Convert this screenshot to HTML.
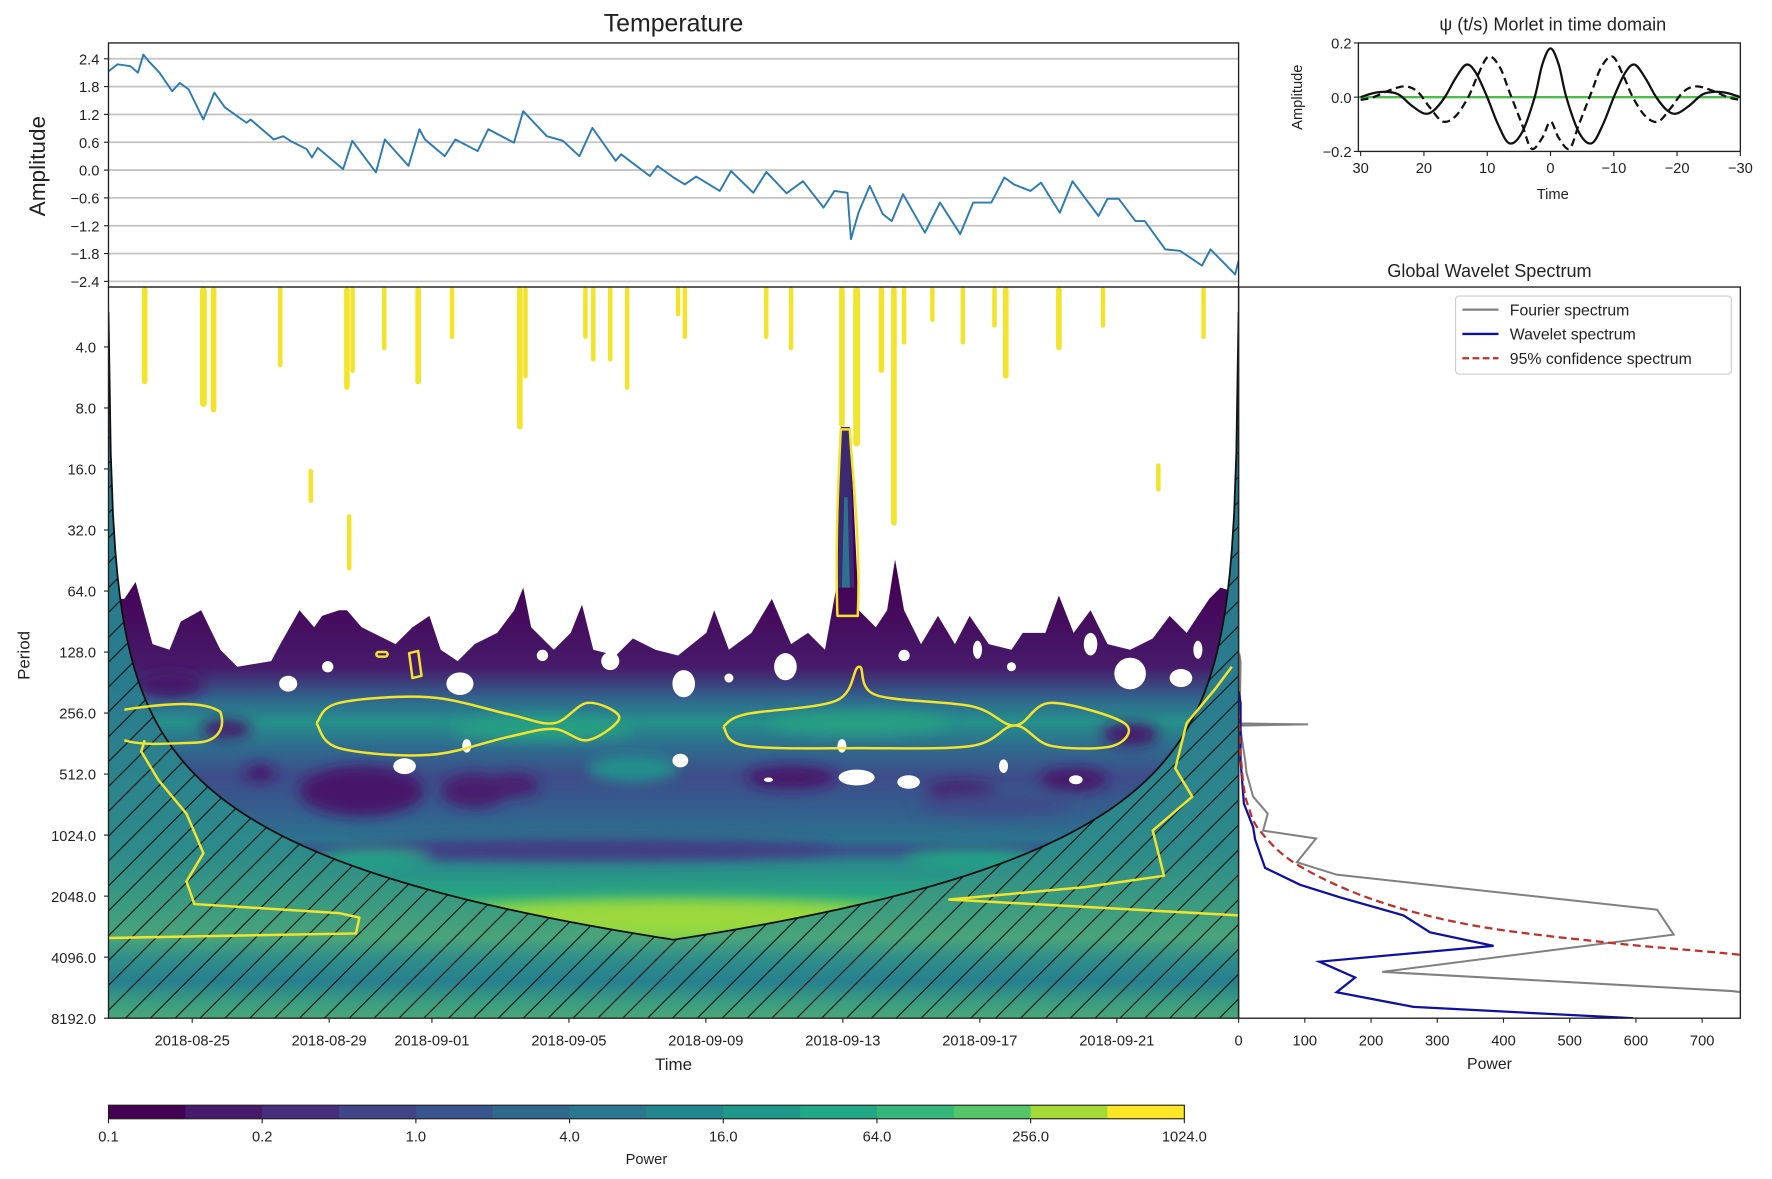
<!DOCTYPE html>
<html><head><meta charset="utf-8"><style>
html,body{margin:0;padding:0;background:#fff;}
svg{display:block;font-family:"Liberation Sans","DejaVu Sans",sans-serif;}
</style></head><body>
<svg id="fig" width="1772" height="1179" viewBox="0 0 1568 1043.3" preserveAspectRatio="none" xmlns="http://www.w3.org/2000/svg">
<defs>
<linearGradient id="gIn" x1="0" y1="254" x2="0" y2="901" gradientUnits="userSpaceOnUse">
<stop offset="0.40" stop-color="#440154"/><stop offset="0.52" stop-color="#471b6a"/><stop offset="0.565" stop-color="#30688e"/>
<stop offset="0.595" stop-color="#25908b"/><stop offset="0.63" stop-color="#2f6b8e"/><stop offset="0.67" stop-color="#3e4c8a"/>
<stop offset="0.72" stop-color="#33608d"/><stop offset="0.755" stop-color="#2c728e"/><stop offset="0.77" stop-color="#3b528b"/>
<stop offset="0.79" stop-color="#2a8a8b"/><stop offset="0.83" stop-color="#28a582"/><stop offset="0.86" stop-color="#5ec962"/><stop offset="0.90" stop-color="#7ad151"/>
</linearGradient>
<linearGradient id="gOut" x1="0" y1="254" x2="0" y2="901" gradientUnits="userSpaceOnUse">
<stop offset="0" stop-color="#2a7a8e"/><stop offset="0.55" stop-color="#2b7b8e"/><stop offset="0.77" stop-color="#2d8a8a"/>
<stop offset="0.84" stop-color="#3a9a80"/><stop offset="0.89" stop-color="#4aa47a"/><stop offset="0.92" stop-color="#2f8d8a"/>
<stop offset="0.95" stop-color="#27808e"/><stop offset="0.98" stop-color="#3c9e7e"/><stop offset="1" stop-color="#4aa67a"/>
</linearGradient>
<pattern id="hatch" patternUnits="userSpaceOnUse" width="22" height="22">
<path d="M0,22 L22,0 M-5,5 L5,-5 M17,27 L27,17" stroke="#111" stroke-width="1"/>
</pattern>
<filter id="blur" x="-50%" y="-50%" width="200%" height="200%"><feGaussianBlur stdDeviation="6"/></filter>
<clipPath id="clipIn"><path id="clipInPath" d=""/></clipPath>
<clipPath id="clipWave"><rect x="96" y="254" width="1000" height="647"/></clipPath>
<clipPath id="clipSpec"><rect x="1096" y="254" width="444" height="647"/></clipPath>
<clipPath id="clipTop"><rect x="96" y="38" width="1000" height="216"/></clipPath>
</defs>
<g id="topPlot"></g>
<g id="wavePlot"></g>
<g id="specPlot"></g>
<g id="morletPlot"></g>
<g id="cbar"></g>
</svg>
<script>
// ---- data ----
const tempDays = [0,0.26,0.64,0.86,1.02,1.17,1.49,1.86,2.08,2.34,2.77,3.09,3.40,4.03,4.15,4.83,5.10,5.31,5.79,5.94,6.11,6.85,7.12,7.81,8.07,8.76,9.08,9.24,9.82,10.13,10.78,11.09,11.84,12.11,12.80,13.27,13.75,14.13,14.81,14.97,15.81,16.03,16.50,16.83,17.16,17.85,18.18,18.83,19.21,19.80,20.28,20.88,21.20,21.58,21.68,21.90,22.23,22.61,22.87,23.20,23.84,24.28,24.87,25.25,25.78,26.16,26.44,26.92,27.23,27.78,28.15,28.91,29.17,29.50,29.99,30.26,30.86,31.29,31.93,32.18,32.90,33.0];
const tempVals = [2.13,2.28,2.24,2.10,2.49,2.35,2.10,1.70,1.88,1.74,1.09,1.67,1.35,1.02,1.09,0.66,0.73,0.63,0.45,0.27,0.48,0.02,0.63,-0.05,0.66,0.09,0.88,0.66,0.30,0.66,0.41,0.88,0.59,1.27,0.73,0.63,0.30,0.91,0.20,0.34,-0.13,0.09,-0.16,-0.31,-0.14,-0.45,-0.02,-0.49,-0.04,-0.50,-0.24,-0.81,-0.45,-0.49,-1.49,-0.92,-0.34,-0.95,-1.10,-0.52,-1.35,-0.70,-1.38,-0.70,-0.70,-0.16,-0.31,-0.45,-0.27,-0.92,-0.24,-0.99,-0.62,-0.62,-1.10,-1.10,-1.71,-1.74,-2.06,-1.71,-2.25,-1.95];
const tempTicks = [2.4,1.8,1.2,0.6,0.0,-0.6,-1.2,-1.8,-2.4];
const dateTicks = ["2018-08-25","2018-08-29","2018-09-01","2018-09-05","2018-09-09","2018-09-13","2018-09-17","2018-09-21"];
const periodTicks = [4,8,16,32,64,128,256,512,1024,2048,4096,8192];
const powerTicks = [0,100,200,300,400,500,600,700];
const fourierPeriods = [130,143,230,288,291,295,440,505,662,802,973,1064,1393,1605,2389,3169,4840,6020,8192];
const fourierPower = [1,3,2,2,105,2,10,12,22,44,37,117,88,148,632,657,217,745,1100];
const waveletPeriods = [200,228,439,715,936,1078,1486,1801,2075,2548,3089,3603,4311,5160,6097,7207,8192];
const waveletPower = [0,3,3,8,22,25,40,93,153,249,289,385,122,176,148,264,596];
const confPeriods = [250,400,600,743,973,1429,2129,2859,3466,3940,4500];
const confPower = [0,3,8,15,32,88,203,355,556,742,900];
const morletRealT = [30,28,26,24,22,20,18.5,16.7,15,13.3,11.8,10,8.3,6.5,4.5,2.5,1.3,0,-1.3,-2.5,-4.5,-6.5,-8.3,-10,-11.8,-13.3,-15,-16.7,-18.5,-20,-22,-24,-26,-28,-30];
const morletReal = [0,0.015,0.02,0.01,-0.03,-0.06,-0.05,0,0.07,0.12,0.09,0,-0.1,-0.17,-0.13,0,0.12,0.18,0.12,0,-0.13,-0.17,-0.1,0,0.09,0.12,0.07,0,-0.05,-0.06,-0.03,0.01,0.02,0.015,0];
const morletImagT = [30,28,25.5,23,21,19,17,15,13,11.5,9.8,8,6.5,4.5,3,1.3,0,-1.3,-3,-4.5,-6.5,-8,-9.8,-11.5,-13,-15,-17,-19,-21,-23,-25.5,-28,-30];
const morletImag = [-0.01,0,0.025,0.04,0.02,-0.04,-0.09,-0.07,0,0.08,0.15,0.11,0.02,-0.1,-0.19,-0.15,-0.09,-0.15,-0.19,-0.1,0.02,0.11,0.15,0.08,0,-0.07,-0.09,-0.04,0.02,0.04,0.025,0,-0.01];
const morletYTicks = [0.2,0.0,-0.2];
const morletXTicks = [30,20,10,0,-10,-20,-30];
const cbarLabels = ["0.1","0.2","1.0","4.0","16.0","64.0","256.0","1024.0"];
const cbarColors = ["#440154","#481a6c","#472f7d","#414487","#39568c","#31688e","#2a788e","#23888e","#1f988b","#22a884","#35b779","#54c568","#a5db36","#fde725"];

// ---- scales ----
const NS="http://www.w3.org/2000/svg";
const X0=96,X1=1096,DAYS=33;
const xDay = d => X0 + d*(X1-X0)/DAYS;
const yTemp = v => 52 + (2.4 - v)/0.6*24.625;
const yPer = p => 253 + (Math.log2(p)-1)*54;
const xPow = w => 1096 + w*0.586;
const xMor = t => 1372 - t*5.6;
const yMor = a => 86 - a*240;
const startMs = Date.UTC(2018,7,22,13,20);
function mk(tag, attrs, parent){const e=document.createElementNS(NS,tag);for(const k in attrs)e.setAttribute(k,attrs[k]);if(parent)parent.appendChild(e);return e;}
function txt(parent,x,y,s,size,anchor,extra){const t=mk('text',Object.assign({x:x,y:y,'font-size':size,'text-anchor':anchor||'middle',fill:'#222'},extra||{}),parent);t.textContent=s;return t;}
function smooth(pts){let d='M'+pts[0][0]+','+pts[0][1];for(let i=0;i<pts.length-1;i++){const p0=pts[Math.max(0,i-1)],p1=pts[i],p2=pts[i+1],p3=pts[Math.min(pts.length-1,i+2)];d+=' C'+(p1[0]+(p2[0]-p0[0])/6)+','+(p1[1]+(p2[1]-p0[1])/6)+' '+(p2[0]-(p3[0]-p1[0])/6)+','+(p2[1]-(p3[1]-p1[1])/6)+' '+p2[0]+','+p2[1];}return d;}

// ---- top temperature plot ----
const topG=document.getElementById('topPlot');
tempTicks.forEach(v=>{
  const g=mk('line',{x1:X0,x2:X1,y1:yTemp(v),y2:yTemp(v),stroke:'#c4c4c4','stroke-width':1.6},topG);
  
  
  const l=txt(topG,88,yTemp(v)+5,(v<0?'\u2212':'')+Math.abs(v).toFixed(1),13,'end');
  
  
  mk('line',{x1:92,x2:96,y1:yTemp(v),y2:yTemp(v),stroke:'#222'},topG);
});
const tl=mk('polyline',{points:tempDays.map((d,i)=>xDay(d)+','+yTemp(tempVals[i])).join(' '),fill:'none',stroke:'#2b7bb0','stroke-width':1.7,'stroke-linejoin':'round','clip-path':'url(#clipTop)'},topG);


mk('rect',{x:X0,y:38,width:1000,height:216,fill:'none',stroke:'#222','stroke-width':1.2},topG);
let t1=txt(topG,596,28,'Temperature',22);


let t2=txt(topG,40,147,'Amplitude',20,'middle',{transform:'rotate(-90 40 147)'});



// ---- wavelet plot ----
const wv=document.getElementById('wavePlot');
const coiPts=[];
for(let x=X0;x<=X1;x+=2){const d=Math.max(0.4,Math.min(x-X0,X1-x));coiPts.push([x,Math.max(254,Math.min(901,yPer(6.72*d)))]);}
const coiStr=coiPts.map(p=>p[0]+','+p[1]).join(' L');
document.getElementById('clipInPath').setAttribute('d','M96,254 L'+coiStr+' L1096,254 Z');
const wg=mk('g',{'clip-path':'url(#clipWave)'},wv);
mk('rect',{x:96,y:254,width:1000,height:647,fill:'url(#gOut)'},wg);
const inG=mk('g',{'clip-path':'url(#clipIn)'},wg);
mk('rect',{x:96,y:254,width:1000,height:647,fill:'url(#gIn)'},inG);
const blobG=mk('g',{filter:'url(#blur)'},inG);
[[320,700,55,22,'#46136a'],[455,695,22,10,'#481c6e'],[200,645,22,8,'#46136a'],[230,684,14,7,'#46136a'],[150,605,30,12,'#46136a'],[420,700,30,15,'#481c6e'],[520,752,220,9,'#433e85'],[700,688,40,10,'#46136a'],[950,690,30,10,'#46136a'],[1000,650,25,10,'#46136a'],[850,700,30,8,'#46136a'],[480,645,80,10,'#27a082'],[760,640,80,10,'#27a082'],[598,812,200,16,'#9bd93c'],[860,760,60,8,'#21a585'],[330,760,50,8,'#21a585'],[560,680,40,12,'#21918c'],[880,712,70,10,'#3e4c8a']].forEach(b=>{
  mk('ellipse',{cx:b[0],cy:b[1],rx:b[2],ry:b[3],fill:b[4]},blobG);
});
const bnd=[[1096,525],[1080,520],[1070,530],[1050,560],[1035,545],[1020,565],[1000,575],[980,570],[965,540],[950,560],[937,527],[925,560],[905,560],[895,575],[875,570],[858,545],[845,570],[830,545],[815,570],[800,540],[792,495],[785,540],[775,555],[760,540],[752,378],[744,378],[740,520],[730,575],[715,560],[700,570],[683,530],[665,560],[645,575],[632,540],[625,560],[600,580],[580,575],[560,565],[545,580],[525,575],[515,535],[505,560],[490,575],[470,555],[463,520],[455,540],[440,560],[420,570],[405,585],[390,575],[380,545],[365,555],[350,570],[330,560],[320,555],[307,540],[300,540],[285,545],[278,555],[265,540],[248,570],[240,585],[210,590],[195,575],[178,540],[160,550],[150,575],[135,570],[120,515],[110,530],[96,530]];
const wp=mk('path',{d:'M96,254 L1096,254 L'+bnd.map(p=>p[0]+','+p[1]).join(' L')+' Z',fill:'#fff'},inG);


mk('path',{d:'M741,520 L744,380 L752,380 L756,520 Z',fill:'#3b2a72'},inG);
mk('path',{d:'M745,520 L747,440 L750,440 L752,520 Z',fill:'#2c718e'},inG);
[[255,605,8,7],[290,590,5,5],[407,605,12,10],[480,580,5,5],[540,585,8,8],[605,605,10,12],[645,600,4,4],[695,590,10,12],[800,580,5,5],[865,575,4,8],[895,590,4,4],[965,570,6,10],[1000,596,14,14],[1045,600,10,8],[1060,575,4,8],[358,678,10,7],[413,660,4,6],[602,673,7,6],[680,690,4,2],[745,660,4,6],[758,688,16,7],[804,692,10,6],[888,678,4,6],[952,690,6,4]].forEach(h=>{
  mk('ellipse',{cx:h[0],cy:h[1],rx:h[2],ry:h[3],fill:'#fff'},inG);
});
const hat=mk('path',{d:'M'+coiStr+' L1096,901 L96,901 Z',fill:'url(#hatch)'},wg);


const coiL=mk('path',{d:'M'+coiStr,fill:'none',stroke:'#111','stroke-width':1.6},wg);


const yc='#f2e42b';
const streakG=mk('g',{fill:yc},wg);


[[128,254,340,5],[180,254,360,6],[189,254,365,5],[248,254,325,4],[275,415,445,4],[307,254,345,5],[309,455,505,4],[312,254,330,4],[340,254,310,4],[370,254,340,5],[400,254,300,4],[460,254,380,5],[465,254,335,4],[518,254,300,4],[525,254,320,4],[540,254,320,4],[555,254,345,4],[600,254,280,4],[606,254,300,4],[678,254,300,4],[700,254,310,4],[745,254,378,5],[758,254,395,6],[780,254,330,5],[791,254,465,5],[800,254,305,4],[825,254,285,4],[852,254,305,4],[880,254,290,4],[890,254,335,5],[937,254,310,5],[976,254,290,4],[1025,410,435,4],[1065,254,300,4]].forEach(s=>{
  mk('rect',{x:s[0]-s[3]/2,y:s[1],width:s[3],height:s[2]-s[1],rx:s[3]/2},streakG);
});
const ygrp=mk('g',{fill:'none',stroke:yc,'stroke-width':2.2,'stroke-linejoin':'round'},wg);


mk('path',{d:'M741,545 C739,480 742,420 744,380 L752,380 C754,420 762,480 759,545 Z'},ygrp);
mk('path',{d:'M110,628 C150,622 180,620 195,630 C200,645 192,656 175,657 C150,658 125,660 110,655'},ygrp);
mk('path',{d:smooth([[280,640],[300,622],[380,617],[450,632],[490,640],[520,622],[548,635],[520,655],[490,645],[450,652],[380,668],[300,662],[280,640]])},ygrp);
mk('path',{d:smooth([[640,643],[660,632],[740,620],[760,590],[775,615],[860,625],[898,642],[930,622],[995,640],[985,660],[930,660],[898,642],[860,660],[760,662],[660,660],[640,643]])},ygrp);
mk('path',{d:'M128,655 L125,665 L140,690 L165,720 L180,755 L165,780 L172,800 L300,808 L318,812 L315,826 L96,830'},ygrp);
mk('path',{d:'M1096,810 L840,796 L960,785 L1030,775 L1020,735 L1055,705 L1040,680 L1050,640 L1075,610 L1090,590'},ygrp);
mk('rect',{x:333,y:577,width:10,height:4,rx:2},ygrp);
mk('path',{d:'M362,578 L370,576 L373,598 L365,600 Z'},ygrp);
mk('rect',{x:96,y:254,width:1000,height:647,fill:'none',stroke:'#222','stroke-width':1.2},wv);
periodTicks.forEach(p=>{
  mk('line',{x1:92,x2:96,y1:yPer(p),y2:yPer(p),stroke:'#222'},wv);
  const l=txt(wv,85,yPer(p)+5,p.toFixed(1),13,'end');
  
  
});
dateTicks.forEach(s=>{
  const d=(Date.UTC(+s.slice(0,4),+s.slice(5,7)-1,+s.slice(8,10))-startMs)/86400000;
  mk('line',{x1:xDay(d),x2:xDay(d),y1:901,y2:905,stroke:'#222'},wv);
  const l=txt(wv,xDay(d),925,s,13);
  
  
});
let t3=txt(wv,596,947,'Time',15);


let t4=txt(wv,26,580,'Period',15,'middle',{transform:'rotate(-90 26 580)'});



// ---- global spectrum ----
const sp=document.getElementById('specPlot');
const sg=mk('g',{'clip-path':'url(#clipSpec)',fill:'none'},sp);
const fl=mk('polyline',{points:fourierPeriods.map((p,i)=>xPow(fourierPower[i])+','+yPer(p)).join(' '),stroke:'#808080','stroke-width':1.8},sg);


const wl=mk('polyline',{points:waveletPeriods.map((p,i)=>xPow(waveletPower[i])+','+yPer(p)).join(' '),stroke:'#1010a0','stroke-width':2},sg);


const cl=mk('path',{d:smooth(confPeriods.map((p,i)=>[xPow(confPower[i]),yPer(p)])),stroke:'#c0302a','stroke-width':2,'stroke-dasharray':'7,4'},sg);


mk('rect',{x:1096,y:254,width:444,height:647,fill:'none',stroke:'#222','stroke-width':1.2},sp);
powerTicks.forEach(w=>{
  mk('line',{x1:xPow(w),x2:xPow(w),y1:901,y2:905,stroke:'#222'},sp);
  const l=txt(sp,xPow(w),925,String(w),13);
  
  
});
let t5=txt(sp,1318,946,'Power',14);


let t6=txt(sp,1318,245,'Global Wavelet Spectrum',16);


const lg=mk('g',{},sp);


mk('rect',{x:1288,y:262,width:244,height:69,rx:3,fill:'#fff',stroke:'#ccc'},lg);
[['Fourier spectrum','#808080',''],['Wavelet spectrum','#1010a0',''],['95% confidence spectrum','#c0302a','6,3']].forEach((e,i)=>{
  const y=274+i*21.5;
  const ln=mk('line',{x1:1294,x2:1326,y1:y,y2:y,stroke:e[1],'stroke-width':2,'stroke-dasharray':e[2]||'none'},lg);
  
  
  const tt=txt(lg,1336,y+5,e[0],14,'start');
  
  
});

// ---- morlet inset ----
const mp=document.getElementById('morletPlot');
mk('line',{x1:1202,x2:1540,y1:86,y2:86,stroke:'#4cbb4c','stroke-width':2},mp);
const mr=mk('path',{d:smooth(morletRealT.map((t,i)=>[xMor(t),yMor(morletReal[i])])),fill:'none',stroke:'#111','stroke-width':2},mp);


const mi=mk('path',{d:smooth(morletImagT.map((t,i)=>[xMor(t),yMor(morletImag[i])])),fill:'none',stroke:'#111','stroke-width':2,'stroke-dasharray':'7,4'},mp);


mk('rect',{x:1202,y:38,width:338,height:96,fill:'none',stroke:'#222','stroke-width':1.2},mp);
morletYTicks.forEach(a=>{
  mk('line',{x1:1198,x2:1202,y1:yMor(a),y2:yMor(a),stroke:'#222'},mp);
  const l=txt(mp,1196,yMor(a)+5,(a<0?'\u2212':'')+Math.abs(a).toFixed(1),13,'end');
  
  
});
morletXTicks.forEach(t=>{
  mk('line',{x1:xMor(t),x2:xMor(t),y1:134,y2:138,stroke:'#222'},mp);
  const l=txt(mp,xMor(t),153,(t<0?'\u2212':'')+Math.abs(t),13);
  
  
});
let t7=txt(mp,1374,176,'Time',13);


let t8=txt(mp,1152,86,'Amplitude',13,'middle',{transform:'rotate(-90 1152 86)'});


let t9=txt(mp,1374,27,'\u03c8 (t/s) Morlet in time domain',16);



// ---- colorbar ----
const cb=document.getElementById('cbar');
const segW=952/cbarColors.length;
cbarColors.forEach((c,i)=>{
  const r=mk('rect',{x:96+i*segW,y:978,width:segW+0.5,height:12,fill:c},cb);
  
  
});
mk('rect',{x:96,y:978,width:952,height:12,fill:'none',stroke:'#222'},cb);
cbarLabels.forEach((s,i)=>{
  const x=96+i*136;
  mk('line',{x1:x,x2:x,y1:990,y2:994,stroke:'#222'},cb);
  const l=txt(cb,x,1010,s,13);
  
  
});
let t10=txt(cb,572,1030,'Power',13);


</script>
</body></html>
